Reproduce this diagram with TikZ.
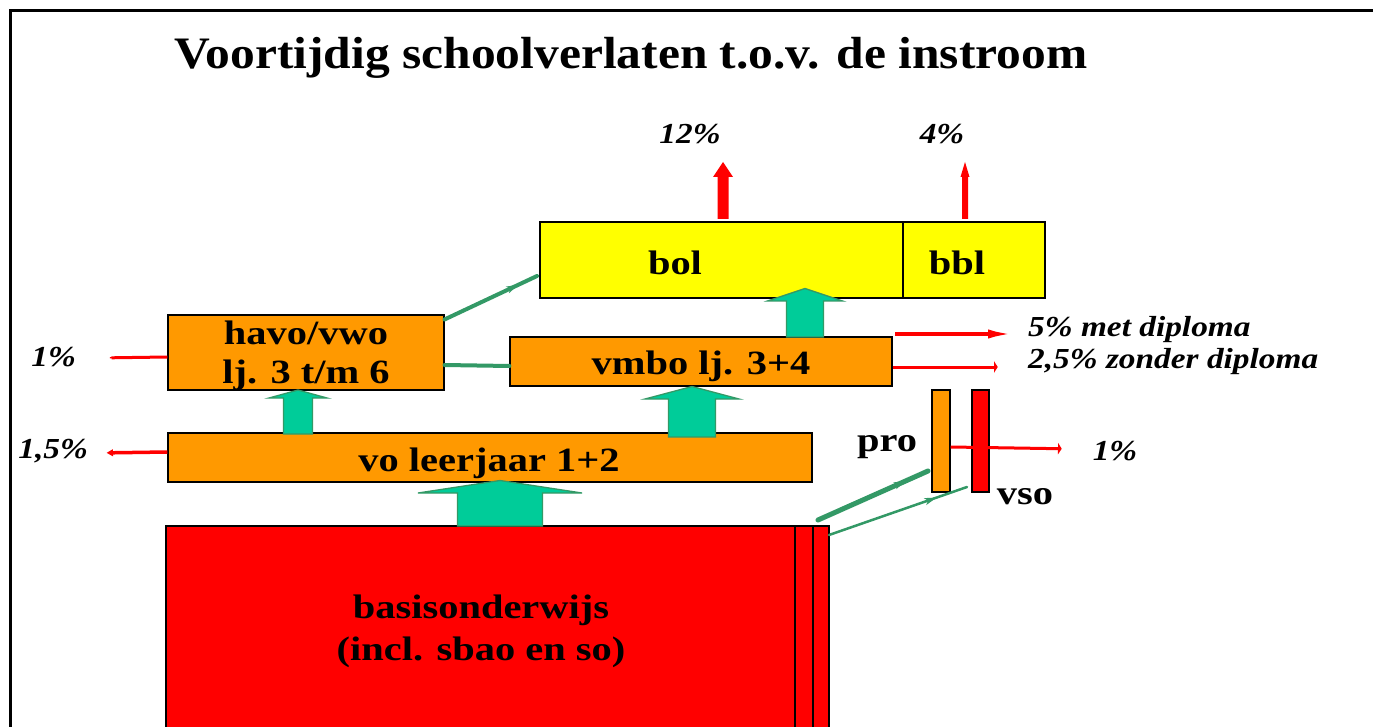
\documentclass[tikz,border=0pt]{standalone}
\usepackage{fontspec}
\setmainfont{Liberation Serif}
\newfontfamily\titlefont{Liberation Serif}[FakeStretch=1.1]
\newfontfamily\boxfont{Liberation Serif}[FakeStretch=1.19]
\newfontfamily\pctfont{Liberation Serif}[FakeStretch=1.15]
\usetikzlibrary{arrows.meta,decorations.markings}
\definecolor{orng}{HTML}{FF9900}
\definecolor{yel}{HTML}{FFFF00}
\definecolor{rd}{HTML}{FF0000}
\definecolor{gfill}{HTML}{00CC99}
\definecolor{gline}{HTML}{339966}
\tikzset{
  boxnode/.style={draw=black,line width=1.2pt,minimum width=#1,inner sep=0pt},
  lbl/.style={font=\boxfont\bfseries\fontsize{34}{40}\selectfont,inner sep=0pt,align=center},
  pct/.style={font=\pctfont\bfseries\itshape\fontsize{29}{32}\selectfont,inner sep=0pt},
  gconn/.style={draw=gline,line cap=round},
  midtip/.style={postaction={decorate},decoration={markings,mark=at position #1 with {\arrow{Stealth[length=12pt,width=7pt,inset=3pt]}}}},
  rconn/.style={draw=rd},
  garrow/.style={fill=gfill,draw=gline,line width=1.3pt,line join=miter},
}
% block arrow: style, cx, tip y, head half width, head base y, shaft half width, bottom y
\newcommand\blkarrow[7]{%
  \path[#1] (#2,#3) -- (#2+#4,#5) -- (#2+#6,#5) -- (#2+#6,#7) -- (#2-#6,#7) -- (#2-#6,#5) -- (#2-#4,#5) -- cycle;}
\begin{document}
\begin{tikzpicture}[x=1pt,y=-1pt]
\useasboundingbox (0,0) rectangle (1373,727);
\fill[white] (0,0) rectangle (1373,727);
% frame
\draw[line width=3pt] (10.5,730) -- (10.5,10.5) -- (1373,10.5);
% title
\node[font=\titlefont\bfseries\fontsize{45}{50}\selectfont,inner sep=0pt] (title) at (631,58) {Voortijdig schoolverlaten t.o.v. de instroom};

% boxes
\node[boxnode=363pt,minimum height=76pt,fill=yel] (bol) at (721.5,260) {};
\node[boxnode=142pt,minimum height=76pt,fill=yel] (bbl) at (974,260) {};
\node[boxnode=276pt,minimum height=75pt,fill=orng] (havo) at (306,352.5) {};
\node[boxnode=382pt,minimum height=49pt,fill=orng] (vmbo) at (701,361.5) {};
\node[boxnode=644pt,minimum height=49pt,fill=orng] (vo) at (490,457.5) {};
\node[boxnode=18pt,minimum height=102pt,fill=orng] (pro) at (941,441) {};
\node[boxnode=17pt,minimum height=102pt,fill=rd] (vso) at (980.5,441) {};
% basisonderwijs
\draw[fill=rd,line width=1.2pt] (166,526) rectangle (829,740);
\coordinate (basisNE) at (829,535);
\draw[line width=1.8pt] (795,526) -- (795,740);
\draw[line width=1.8pt] (813,526) -- (813,740);

% box texts
\node[lbl] (bolt) at (675,263) {bol};
\node[lbl] (bblt) at (957,263) {bbl};
\node[lbl] (havot) at (306,356) {havo/vwo\\[-1pt]lj. 3 t/m 6};
\node[lbl] (vmbot) at (701,366) {vmbo lj. 3+4};
\node[lbl] (vot) at (489,463) {vo leerjaar 1+2};
\node[lbl] (basist) at (481,631) {basisonderwijs\\[2pt](incl. sbao en so)};
\node[lbl] (prot) at (887,447) {pro};
\node[lbl] (vsot) at (1025,497) {vso};

% green block arrows
\blkarrow{garrow}{298}{390}{29}{398}{14.5}{434}
\blkarrow{garrow}{692}{386.5}{47}{399}{23.5}{437}
\blkarrow{garrow}{805}{288.5}{37.5}{301}{18.5}{337}
\blkarrow{garrow}{500}{480.5}{82}{493}{42.5}{526}

% red up arrows
\blkarrow{fill=rd}{723}{162}{10}{177}{5.5}{219}
\blkarrow{fill=rd}{965}{162}{4.5}{177}{3}{219}
\node[pct] (p12) at (690,134) {12\%};
\node[pct] (p4) at (942,134) {4\%};

% green connectors
\coordinate (hb1) at (444.5,319.5);
\coordinate (hb2) at (537,276);
\draw[gconn,line width=4pt,midtip=0.8] (hb1) -- (hb2);
\coordinate (hv1) at (444.5,365);
\draw[gconn,line width=4pt] (hv1) -- (vmbo.west |- 0,366);
\coordinate (bp1) at (818,520);
\coordinate (bp2) at (928,471);
\draw[gconn,line width=5pt,midtip=0.8] (bp1) -- (bp2);
\coordinate (bv2) at (967,487);
\draw[gconn,line width=2.5pt,midtip=0.78] (basisNE) -- (bv2);

% red exits
\coordinate (l1) at (97,358);
\draw[rconn,line width=3pt,-{Latex[length=16pt,width=5pt]}] (havo.west |- 0,357) -- (l1);
\node[pct,anchor=east] (p1l) at (76,357) {1\%};
\coordinate (l15) at (97,453);
\draw[rconn,line width=3.5pt,-{Latex[length=16pt,width=6pt]}] (vo.west |- 0,452) -- (l15);
\node[pct,anchor=east] (p15) at (88,451) {1,5\%};
\coordinate (m5a) at (895,334);
\coordinate (m5b) at (1016,334);
\draw[rconn,line width=4pt,-{Latex[length=28pt,width=9pt]}] (m5a) -- (m5b);
\node[pct,anchor=west] (p5) at (1028,330) {5\% met diploma};
\coordinate (z25b) at (1014,367);
\draw[rconn,line width=3pt,-{Latex[length=20pt,width=5pt]}] (vmbo.east |- 0,367) -- (z25b);
\node[pct,anchor=west] (p25) at (1028,362) {2,5\% zonder diploma};
\coordinate (r1) at (1078,449);
\draw[rconn,line width=3pt,-{Latex[length=20pt,width=5pt]}] (pro.east |- 0,447) -- (r1);
\node[pct] (p1r) at (1115,451) {1\%};
\end{tikzpicture}
\end{document}
